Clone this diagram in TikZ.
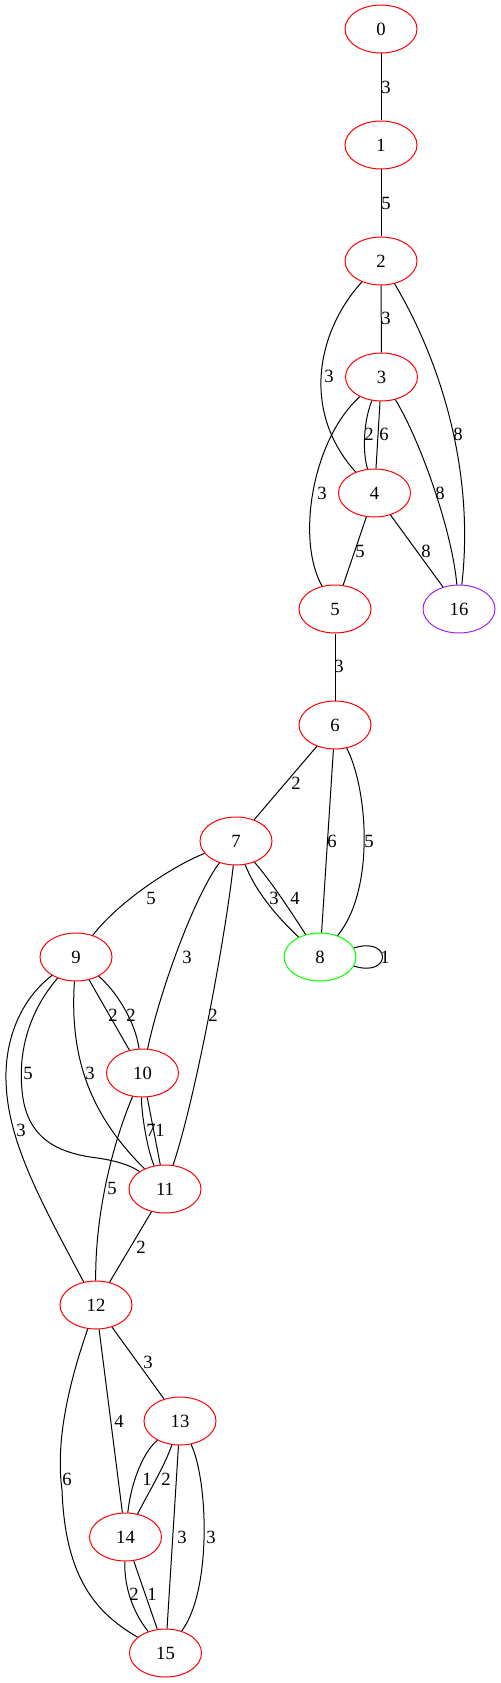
\documentclass[tikz,border=0pt]{standalone}
\usepackage{tikz}
\usetikzlibrary{shapes.geometric}
\usepackage{fontspec}
\setmainfont{Liberation Serif}
\definecolor{gvgreen}{RGB}{0,255,0}
\definecolor{gvpurple}{RGB}{160,32,240}
\tikzset{vertex/.style={ellipse,draw=red,line width=0.75pt,minimum width=54pt,minimum height=36pt,inner sep=0pt,font=\fontsize{14}{16}\selectfont},
  elabel/.style={inner sep=0pt,font=\fontsize{14}{16}\selectfont}}

\begin{document}
\begin{tikzpicture}[x=0.75pt,y=-0.75pt,line width=0.75pt]
\useasboundingbox (0,0) rectangle (500,1683);
% vertices
\node (n0) [vertex] at (381,29) {0};
\node (n1) [vertex] at (381,145) {1};
\node (n2) [vertex] at (381,261) {2};
\node (n3) [vertex] at (381.5,377) {3};
\node (n4) [vertex] at (374.5,493) {4};
\node (n5) [vertex] at (335,609) {5};
\node (n16) [vertex,draw=gvpurple] at (459,609) {16};
\node (n6) [vertex] at (335,725) {6};
\node (n7) [vertex] at (236,841) {7};
\node (n8) [vertex,draw=gvgreen] at (320,957) {8};
\node (n9) [vertex] at (76,957) {9};
\node (n10) [vertex] at (142.5,1073) {10};
\node (n11) [vertex] at (165,1189) {11};
\node (n12) [vertex] at (96,1305) {12};
\node (n13) [vertex] at (180,1421) {13};
\node (n14) [vertex] at (125.5,1537) {14};
\node (n15) [vertex] at (165.5,1653) {15};
%
\draw (n0) -- (n1) node[elabel] at (386,87) {3};
\draw (n1) -- (n2) node[elabel] at (386,203) {5};
\draw (n2) -- (n3) node[elabel] at (386,318) {3};
\draw (n2) .. controls (318,330) and (300,410) .. (n4) node[elabel] at (329,376) {3};
\draw (n2) .. controls (440,360) and (475,470) .. (n16) node[elabel] at (458,434) {8};
\draw (n3) .. controls (364,420) and (362,450) .. (n4) node[elabel] at (369,434) {2};
\draw (n3) -- (n4) node[elabel] at (384,434) {6};
\draw (n3) .. controls (312,440) and (296,540) .. (n5) node[elabel] at (322,493) {3};
\draw (n3) .. controls (420,440) and (452,530) .. (n16) node[elabel] at (440,493) {8};
\draw (n4) -- (n5) node[elabel] at (360,551) {5};
\draw (n4) -- (n16) node[elabel] at (426,551) {8};
\draw (n5) -- (n6) node[elabel] at (339,666) {3};
\draw (n6) -- (n7) node[elabel] at (296,783) {2};
\draw (n6) -- (n8) node[elabel] at (332,841) {6};
\draw (n6) .. controls (368,790) and (375,890) .. (n8) node[elabel] at (369,841) {5};
\draw (n7) .. controls (255,890) and (275,915) .. (n8) node[elabel] at (274,898) {3};
\draw (n7) .. controls (270,880) and (290,910) .. (n8) node[elabel] at (295,898) {4};
\draw (n8.15) .. controls (392,936) and (392,978) .. (n8.-15) node[elabel] at (385,957) {1};
%
\draw (n7) .. controls (175,865) and (120,900) .. (n9) node[elabel] at (151,898) {5};
\draw (n7) .. controls (195,895) and (160,990) .. (n10) node[elabel] at (187,957) {3};
\draw (n7) .. controls (225,940) and (195,1100) .. (n11) node[elabel] at (213,1015) {2};
\draw (n9) -- (n10) node[elabel] at (113,1015) {2};
\draw (n9) .. controls (115,990) and (135,1020) .. (n10) node[elabel] at (131,1015) {2};
\draw (n9) .. controls (30,1010) and (18,1050) .. (22,1090) .. controls (26,1140) and (60,1152) .. (90,1157)
  .. controls (115,1160) and (130,1165) .. (n11) node[elabel] at (28,1073) {5};
\draw (n9) .. controls (70,1050) and (85,1110) .. (n11) node[elabel] at (90,1073) {3};
\draw (n9) .. controls (20,1000) and (5,1040) .. (6,1080) .. controls (7,1140) and (40,1200) .. (n12)
  node[elabel] at (21,1130) {3};
\draw (n10) .. controls (141,1110) and (147,1150) .. (n11) node[elabel] at (151,1130) {7};
\draw (n10) -- (n11) node[elabel] at (160,1130) {1};
\draw (n10) .. controls (110,1150) and (95,1220) .. (n12) node[elabel] at (112,1188) {5};
\draw (n11) -- (n12) node[elabel] at (141,1247) {2};
%
\draw (n12) -- (n13) node[elabel] at (148,1362) {3};
\draw (n12) -- (n14) node[elabel] at (119,1421) {4};
\draw (n12) .. controls (70,1380) and (55,1440) .. (62,1490) .. controls (65,1570) and (90,1610) .. (n15)
  node[elabel] at (67,1479) {6};
\draw (n13) .. controls (140,1455) and (130,1490) .. (n14) node[elabel] at (147,1479) {1};
\draw (n13) .. controls (165,1465) and (150,1490) .. (n14) node[elabel] at (166,1479) {2};
\draw (n13) -- (n15) node[elabel] at (182,1537) {3};
\draw (n13) .. controls (208,1480) and (212,1590) .. (n15) node[elabel] at (211,1537) {3};
\draw (n14) .. controls (124,1590) and (135,1615) .. (n15) node[elabel] at (134,1594) {2};
\draw (n14) -- (n15) node[elabel] at (152,1594) {1};
\end{tikzpicture}
\end{document}
